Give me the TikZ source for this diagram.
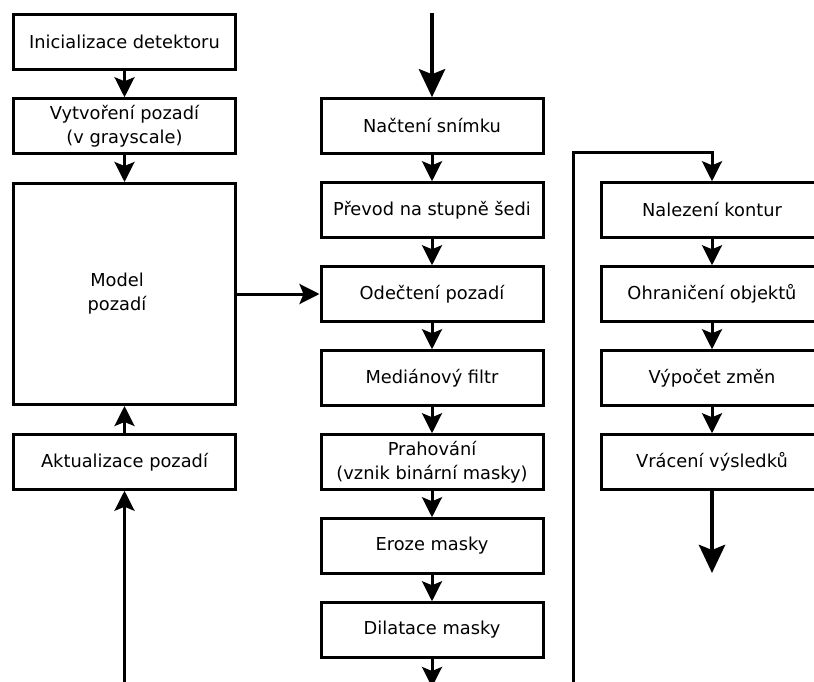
\documentclass[tikz,border=0pt]{standalone}
\usepackage{fontspec}
\setmainfont{DejaVu Sans}
\usetikzlibrary{arrows.meta}
\begin{document}
\begin{tikzpicture}[x=1pt,y=-1pt,
  box/.style={draw=black,line width=3pt,fill=white,minimum width=222pt,minimum height=54.5pt,
    inner sep=0pt,align=center,font=\fontsize{17.8}{24.5}\selectfont},
  conn/.style={line width=3pt,-{Stealth[length=20pt,width=20pt,inset=4pt]}},
  thick conn/.style={line width=4.8pt,-{Stealth[length=28pt,width=26pt,inset=5pt]}}]
\useasboundingbox (0,0) rectangle (814,682);
% left column
\node[box] (init) at (124.5,42) {Inicializace detektoru};
\node[box] (vytv) at (124.5,126) {Vytvoření pozadí\\(v grayscale)};
\node[box,minimum height=221pt,label={[xshift=-7.5pt,align=center,font=\fontsize{17.8}{24}\selectfont]center:Model\\pozadí}] (model) at (124.5,294) {};
\node[box] (aktual) at (124.5,462) {Aktualizace pozadí};
\coordinate (lbot) at (124.5,690);
% middle column
\coordinate (mtop) at (432,13);
\node[box] (nacteni) at (432,126) {Načtení snímku};
\node[box] (prevod) at (432,210) {Převod na stupně šedi};
\node[box] (odecteni) at (432,294) {Odečtení pozadí};
\node[box] (median) at (432,378) {Mediánový filtr};
\node[box] (prah) at (432,462) {Prahování\\(vznik binární masky)};
\node[box] (eroze) at (432,546) {Eroze masky};
\node[box] (dilat) at (432,630) {Dilatace masky};
\coordinate (mbot) at (432,687);
% right column
\node[box] (nalez) at (712,210) {Nalezení kontur};
\node[box] (ohran) at (712,294) {Ohraničení objektů};
\node[box] (vypocet) at (712,378) {Výpočet změn};
\node[box] (vraceni) at (712,462) {Vrácení výsledků};
\coordinate (rend) at (712,573);
\coordinate (loopbot) at (573,690);
\coordinate (looptop) at (573,153);
% connectors
\draw[conn] (init) -- (vytv);
\draw[conn] (vytv) -- (model);
\draw[conn] (aktual) -- (model);
\draw[conn] (lbot) -- (aktual);
\draw[conn] (model.east) -- (odecteni.west);
\draw[thick conn] (mtop) -- (nacteni);
\draw[conn] (nacteni) -- (prevod);
\draw[conn] (prevod) -- (odecteni);
\draw[conn] (odecteni) -- (median);
\draw[conn] (median) -- (prah);
\draw[conn] (prah) -- (eroze);
\draw[conn] (eroze) -- (dilat);
\draw[conn] (dilat) -- (mbot);
\draw[conn] (loopbot) -- (looptop) -| (nalez.north);
\draw[conn] (nalez) -- (ohran);
\draw[conn] (ohran) -- (vypocet);
\draw[conn] (vypocet) -- (vraceni);
\draw[thick conn] (vraceni) -- (rend);
\end{tikzpicture}
\end{document}
